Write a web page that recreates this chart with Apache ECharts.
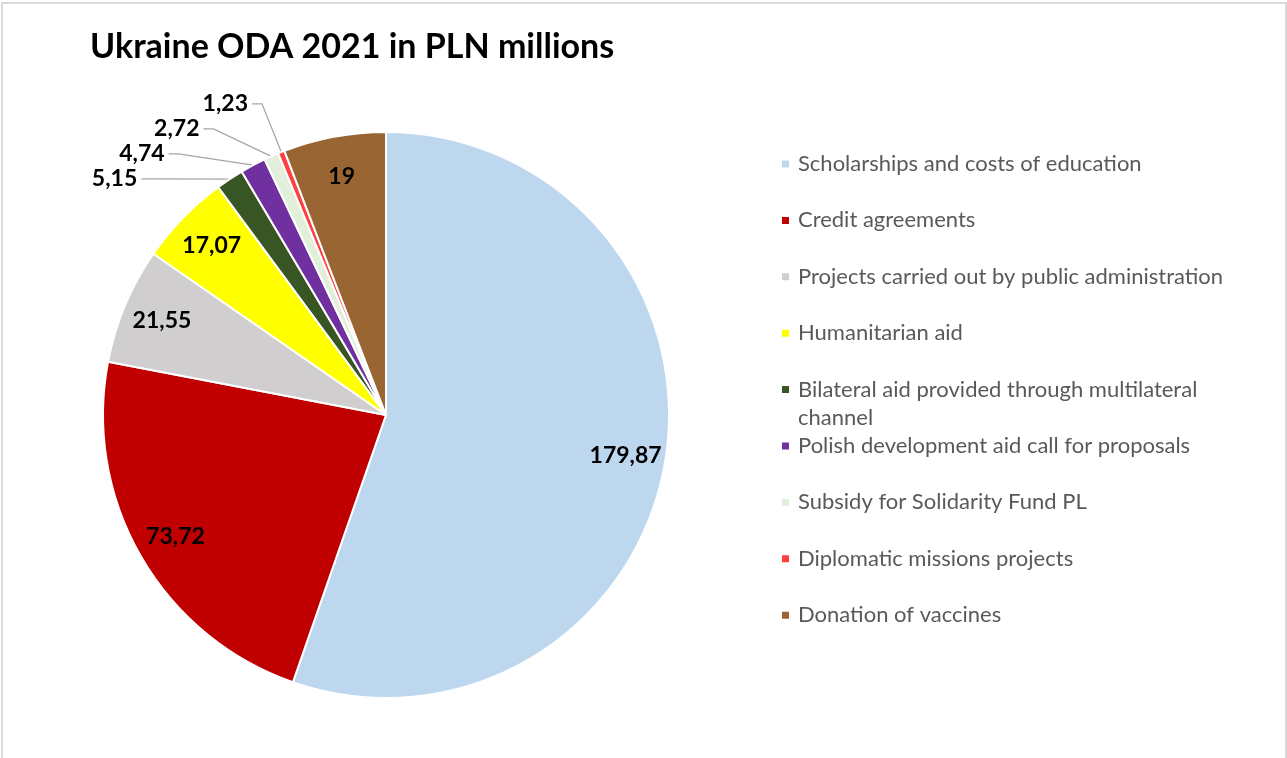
<!DOCTYPE html>
<html>
<head>
<meta charset="utf-8">
<script src="https://cdn.jsdelivr.net/npm/echarts@6/dist/echarts.min.js"></script>
<style>
html, body { margin: 0; padding: 0; background: #ffffff; }
#frame { position: absolute; left: 1px; top: 2px; width: 1286px; height: 820px; border: 2px solid #d9d9d9; box-sizing: border-box; }
#chart { position: absolute; left: 0; top: 0; width: 1287px; height: 758px; }
</style>
</head>
<body>
<div id="frame"></div>
<div id="chart"></div>
<script>
const chartTitle = 'Ukraine ODA 2021 in PLN millions';
const categories = [
  'Scholarships and costs of education',
  'Credit agreements',
  'Projects carried out by public administration',
  'Humanitarian aid',
  'Bilateral aid provided through multilateral channel',
  'Polish development aid call for proposals',
  'Subsidy for Solidarity Fund PL',
  'Diplomatic missions projects',
  'Donation of vaccines'
];
const values = [179.87, 73.72, 21.55, 17.07, 5.15, 4.74, 2.72, 1.23, 19];
const colors = ['#BDD7EE', '#C00000', '#D0CECE', '#FFFF00', '#375623', '#7030A0', '#E2EFDA', '#FF4040', '#996633'];

const FONT = 'Lato';
const insideThreshold = 10;
const fmt = v => String(v).replace('.', ',');
const wrapLegend = name => name.replace(' multilateral channel', ' multilateral\nchannel');

const chart = echarts.init(document.getElementById('chart'), null, { renderer: 'canvas' });

const mainData = categories.map((name, i) => ({
  name: name,
  value: values[i],
  itemStyle: { color: colors[i] },
  label: { show: values[i] < insideThreshold },
  labelLine: { show: values[i] < insideThreshold }
}));
const labelData = categories.map((name, i) => ({
  name: name,
  value: values[i],
  label: { show: values[i] >= insideThreshold }
}));

const labelText = { fontFamily: FONT, fontWeight: 'bold', fontSize: 23, color: '#000000' };

// the wrapped legend entry takes two text lines, so the list continues in a second block
const splitAt = categories.findIndex(n => wrapLegend(n) !== n) + 1;
const slotStep = 56.4;
const legendTop = 150;

const legendBase = {
  orient: 'vertical',
  left: 780,
  padding: 0,
  itemGap: slotStep - 28,
  itemWidth: 9,
  itemHeight: 9,
  icon: 'rect',
  selectedMode: false,
  formatter: wrapLegend,
  textStyle: {
    fontFamily: FONT,
    fontSize: 22,
    color: '#595959',
    lineHeight: 28,
    height: 28,
    padding: [0, 0, 0, 3],
    rich: { n: { fontFamily: FONT } }
  }
};

chart.setOption({
  animation: false,
  backgroundColor: 'transparent',
  title: {
    text: chartTitle,
    left: 85,
    top: 25,
    textStyle: { fontFamily: FONT, fontWeight: 'bold', fontSize: 34, color: '#000000' }
  },
  legend: [
    Object.assign({}, legendBase, { top: legendTop, data: categories.slice(0, splitAt) }),
    Object.assign({}, legendBase, { top: legendTop + splitAt * slotStep, data: categories.slice(splitAt) })
  ],
  series: [
    {
      name: 'main',
      type: 'pie',
      center: [386, 415],
      radius: [0, 283],
      startAngle: 90,
      clockwise: true,
      avoidLabelOverlap: true,
      minShowLabelAngle: 0,
      itemStyle: { borderColor: '#ffffff', borderWidth: 2 },
      emphasis: { disabled: true },
      label: Object.assign({ position: 'outside', formatter: p => fmt(p.value), distanceToLabelLine: 4, lineHeight: 21 }, labelText),
      labelLine: { length: 52, length2: 10, lineStyle: { color: '#a6a6a6', width: 1.3 } },
      data: mainData
    },
    {
      name: 'labels',
      type: 'pie',
      center: [386, 415],
      radius: [0, 480],
      startAngle: 90,
      clockwise: true,
      silent: true,
      legendHoverLink: false,
      itemStyle: { color: 'rgba(0,0,0,0)', borderWidth: 0 },
      emphasis: { disabled: true },
      label: Object.assign({ position: 'inside', formatter: p => fmt(p.value) }, labelText),
      labelLine: { show: false },
      data: labelData
    }
  ]
});
</script>
</body>
</html>
